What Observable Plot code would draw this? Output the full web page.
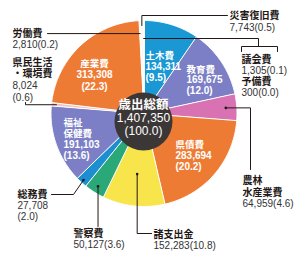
<!DOCTYPE html>
<html><head><meta charset="utf-8">
<script src="https://cdn.jsdelivr.net/npm/d3@7"></script>
<script src="https://cdn.jsdelivr.net/npm/@observablehq/plot@0.6"></script>
<style>
html,body{margin:0;padding:0;background:#fff;}
#chart svg{display:block;}
</style></head><body><div id="chart"></div>
<script>
// ---- data ----
const categories = ["土木費","教育費","農林水産業費","県債費","諸支出金","警察費","総務費","福祉保健費","県民生活・環境費","産業費","労働費","災害復旧費","議会費","予備費"];
const values = [134311,169675,64959,283694,152283,50127,27708,191103,8024,313308,2810,7743,1305,300];
const shares = [9.5,12.0,4.6,20.2,10.8,3.6,2.0,13.6,0.6,22.3,0.2,0.5,0.1,0.0];
const totalLabel = ["歳出総額","1,407,350","(100.0)"];
const palette = ["#1a98d4","#7c7fc5","#d972b3","#ee7b34","#f8e54b","#2ba878","#1b8fd0","#7c7fc5","#f4c3c6","#ee7b34","#f7e2d4","#fdf6f0","#d8eef8","#d8eef8"];

// ---- layout ----
const W = 300, H = 254;
const cx = 143.5, cy = 113, R = 93;
const fmt = d3.format(",");
const pf = d3.format(".1f");
const idx = Object.fromEntries(categories.map((c,i)=>[c,i]));

const arcs = d3.pie().sort(null).value(d=>d.value)(categories.map((name,i)=>({name, value: values[i]})));
const pt = (a, r) => ({x: cx + r*Math.sin(a), y: cy - r*Math.cos(a)});
const slicePts = arcs.flatMap(a => {
  const n = Math.max(2, Math.ceil((a.endAngle - a.startAngle) / (Math.PI/180)));
  const pts = [{name: a.data.name, ...pt(0,0)}];
  for (let k = 0; k <= n; k++) pts.push({name: a.data.name, ...pt(a.startAngle + (a.endAngle - a.startAngle)*k/n, R)});
  return pts;
});
const mid = (name, r) => { const a = arcs[idx[name]]; return pt((a.startAngle + a.endAngle)/2, r); };

// leader lines (end point inside slice computed from slice angle)
const leaders = [];
const addPath = (id, pts) => pts.forEach(p => leaders.push({id, ...p}));
const dots = [];
{ const e = mid("災害復旧費", 88); addPath("saigai", [e, {x:e.x, y:15}, {x:227, y:15}]); }
{ const e = mid("労働費", 80); addPath("roudou", [{x:47, y:e.y}, e]); }
{ const e = mid("議会費", 75); addPath("gikai", [e, {x:258, y:e.y}, {x:258, y:46}]);
  addPath("bracket", [{x:241,y:51},{x:241,y:46},{x:277,y:46},{x:277,y:51}]); }
{ const e = mid("県民生活・環境費", 88); addPath("kenmin", [e, {x:25, y:e.y}, {x:25, y:102}]); }
{ const e = mid("農林水産業費", 82); addPath("nourin", [e, {x:250, y:e.y}, {x:250, y:169}]); dots.push(e); }
{ const e = mid("諸支出金", 61); addPath("shoshi", [e, {x:e.x, y:233}, {x:151, y:233}]); dots.push(e); }
{ const e = mid("警察費", 86); addPath("keisatsu", [e, {x:e.x, y:226}]); dots.push(e); }
{ const e = mid("総務費", 90); addPath("soumu", [e, {x:73, y:194}, {x:51, y:194}]); dots.push(e); }

const V = (n) => fmt(values[idx[n]]);
const S = (n) => `(${pf(shares[idx[n]])})`;
// label blocks: lines, x, first-line y, line spacing (px)
const outer = [
  {lines:["災害復旧費", V("災害復旧費")+S("災害復旧費")], x:229, y0:15, lh:12},
  {lines:["労働費", V("労働費")+S("労働費")], x:12, y0:33, lh:11},
  {lines:["県民生活","・環境費", V("県民生活・環境費"), S("県民生活・環境費")], x:12, y0:62, lh:11.7},
  {lines:["議会費", V("議会費")+S("議会費"), "予備費", V("予備費")+S("予備費")], x:241, y0:59, lh:11},
  {lines:["農林","水産業費", V("農林水産業費")+S("農林水産業費")], x:242, y0:180.5, lh:11.5},
  {lines:["総務費", V("総務費"), S("総務費")], x:17, y0:194, lh:11.3},
  {lines:["警察費", V("警察費")+S("警察費")], x:73, y0:233, lh:11.5},
  {lines:["諸支出金", V("諸支出金")+S("諸支出金")], x:153, y0:234, lh:11.5}
];
const inner = [
  {lines:["産業費", V("産業費"), S("産業費")], x:94, y0:63, lh:11.5, anchor:"middle"},
  {lines:["土木費", V("土木費"), S("土木費")], x:145, y0:55, lh:11, anchor:"start"},
  {lines:["教育費", V("教育費"), S("教育費")], x:186, y0:69, lh:10.5, anchor:"start"},
  {lines:["県債費", V("県債費"), S("県債費")], x:175, y0:144, lh:11, anchor:"start"},
  {lines:["福祉","保健費", V("福祉保健費"), S("福祉保健費")], x:63, y0:122, lh:11, anchor:"start"}
];
const centerBlock = {lines: totalLabel, x:143, y0:104, lh:13.5, anchor:"middle"};

const isCJK = s => /[\u3000-\u9fff\u30fb]/.test(s);
const explode = (blocks) => blocks.flatMap(b => b.lines.map((t,k) => ({t, x:b.x, y:b.y0 + k*b.lh, anchor:b.anchor||"start", cjk:isCJK(t)})));
const outerLines = explode(outer), innerLines = explode(inner), centerLines = explode([centerBlock]);

const font = "'Liberation Sans','Noto Sans CJK JP',sans-serif";

const txt = (rows, opts) => ["start","middle"].map(a => Plot.text(rows.filter(d=>d.anchor===a), {x:"x", y:"y", text:"t", textAnchor:a, ...opts}));

const chart = Plot.plot({
  width: W, height: H, margin: 0,
  x: {domain: [0, W], range: [0, W], axis: null},
  y: {domain: [0, H], range: [0, H], axis: null},
  color: {domain: categories, range: palette},
  style: {fontFamily: font, background: "#fff", overflow: "visible"},
  marks: [
    Plot.line(slicePts, {x:"x", y:"y", z:"name", fill:"name", stroke:"#fff", strokeWidth:1, curve:"linear-closed"}),
    Plot.dot([{x:143, y:121}], {x:"x", y:"y", r:29, fill:"#3b3737"}),
    Plot.line(leaders, {x:"x", y:"y", z:"id", stroke:"#231815", strokeWidth:1}),
    Plot.dot(dots, {x:"x", y:"y", r:1.3, fill:"#231815"}),
    ...txt(outerLines.filter(d=>d.cjk), {fill:"#231815", fontWeight:"bold", fontSize:10}),
    ...txt(outerLines.filter(d=>!d.cjk), {fill:"#333", fontSize:10}),
    ...txt(innerLines.filter(d=>d.cjk), {fill:"#fff", fontWeight:"bold", fontSize:9.5}),
    ...txt(innerLines.filter(d=>!d.cjk), {fill:"#fff", fontWeight:"bold", fontSize:10}),
    ...txt(centerLines.filter(d=>d.cjk), {fill:"#fff", fontWeight:"bold", fontSize:12.5}),
    ...txt(centerLines.filter(d=>!d.cjk), {fill:"#fff", fontSize:12})
  ]
});
document.getElementById("chart").appendChild(chart);
</script></body></html>
